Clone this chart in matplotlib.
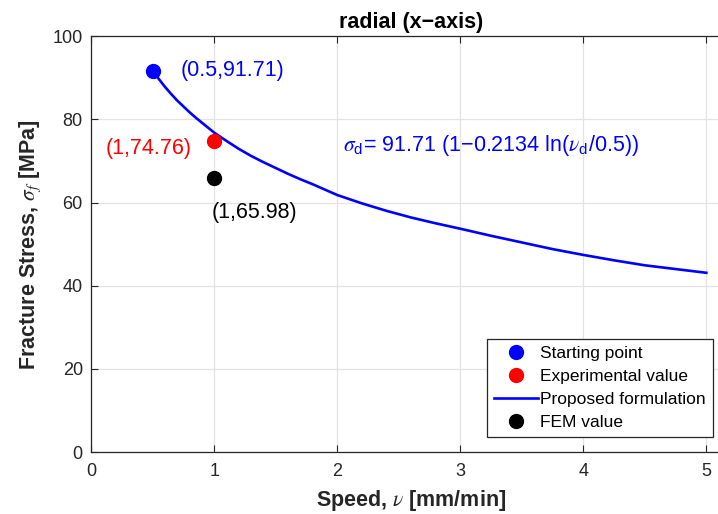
import matplotlib
matplotlib.use('Agg')
import matplotlib.pyplot as plt

plt.rcParams['font.family'] = ['Liberation Sans', 'DejaVu Sans']
# greek symbols in STIX italic, plain subscripts in the sans text font
plt.rcParams['mathtext.fontset'] = 'custom'
plt.rcParams['mathtext.it'] = 'STIXGeneral:italic'
plt.rcParams['mathtext.rm'] = 'Liberation Sans'
plt.rcParams['mathtext.sf'] = 'Liberation Sans'
plt.rcParams['mathtext.bf'] = 'Liberation Sans:bold'

# proposed formulation curve, sampled along speed
speed = [0.5, 0.55, 0.6, 0.65, 0.7, 0.75, 0.8, 0.85, 0.9, 0.95, 1.0,
         1.1, 1.2, 1.3, 1.4, 1.5, 1.6, 1.7, 1.8, 1.9, 2.0, 2.2, 2.4,
         2.6, 2.8, 3.0, 3.25, 3.5, 3.75, 4.0, 4.25, 4.5, 4.75, 5.0]
stress = [91.71, 89.7, 87.8, 86.1, 84.5, 83.1, 81.7, 80.4, 79.2, 78.0,
          76.8, 74.8, 72.9, 71.2, 69.7, 68.3, 66.9, 65.6, 64.4, 63.1,
          61.8, 59.8, 58.0, 56.4, 55.0, 53.7, 52.0, 50.4, 48.8, 47.4,
          46.1, 44.9, 44.0, 43.1]

start_pt = (0.5, 91.71)
exp_pt = (1, 74.76)
fem_pt = (1, 65.98)

dark = '#262626'
fig = plt.figure(figsize=(7.18, 5.14), dpi=100)
ax = fig.add_axes([0.127, 0.1206, 0.891, 0.809])

ax.plot(start_pt[0], start_pt[1], 'o', color='b', markersize=10,
        label='Starting point', zorder=4)
ax.plot(exp_pt[0], exp_pt[1], 'o', color='r', markersize=10,
        label='Experimental value', zorder=4)
ax.plot(speed, stress, '-', color='b', linewidth=1.9,
        label='Proposed formulation', zorder=3)
ax.plot(fem_pt[0], fem_pt[1], 'o', color='k', markersize=10,
        label='FEM value', zorder=4)

ax.text(0.73, 91.71, '(0.5,91.71)', color='b', fontsize=15.5, va='center')
ax.text(0.815, 73.0, '(1,74.76)', color='r', fontsize=15.5, va='center',
        ha='right')
ax.text(0.98, 57.6, '(1,65.98)', color='k', fontsize=15.5, va='center')
ax.text(2.05, 73.8,
        '$\\sigma_\\mathrm{d}$= 91.71 (1\u22120.2134 ln($\\nu_\\mathrm{d}$/0.5))',
        color='b', fontsize=15.5, va='center')

ax.set_xlim(0, 5.2)
ax.set_ylim(0, 100)
ax.set_xticks([0, 1, 2, 3, 4, 5])
ax.set_yticks([0, 20, 40, 60, 80, 100])
ax.grid(True, color='#e3e3e3', linewidth=0.9)
ax.set_axisbelow(True)
ax.tick_params(direction='in', top=True, right=True, labelsize=13,
               colors=dark, length=5, width=0.8)
ax.tick_params(axis='x', pad=8)
ax.tick_params(axis='y', pad=6)
for s in ax.spines.values():
    s.set_color(dark)
    s.set_linewidth(0.9)

ax.set_title('radial (x\u2212axis)', fontsize=15.5, fontweight='bold',
             color='k', pad=6)
ax.set_xlabel(r'Speed, $\nu$ [mm/min]', fontsize=15.5, fontweight='bold',
              color=dark, labelpad=6)
ax.set_ylabel(r'Fracture Stress, $\sigma_f$ [MPa]', fontsize=15.5,
              fontweight='bold', color=dark, labelpad=7)

leg = ax.legend(loc='lower right', bbox_to_anchor=(713 / 718, 77 / 514),
                bbox_transform=fig.transFigure, borderaxespad=0,
                fontsize=12.5, fancybox=False, framealpha=1,
                edgecolor=dark, handlelength=2.5, handletextpad=0.15,
                labelspacing=0.45, borderpad=0.4)
leg.get_frame().set_linewidth(0.9)

fig.savefig('out.png', dpi=100)
